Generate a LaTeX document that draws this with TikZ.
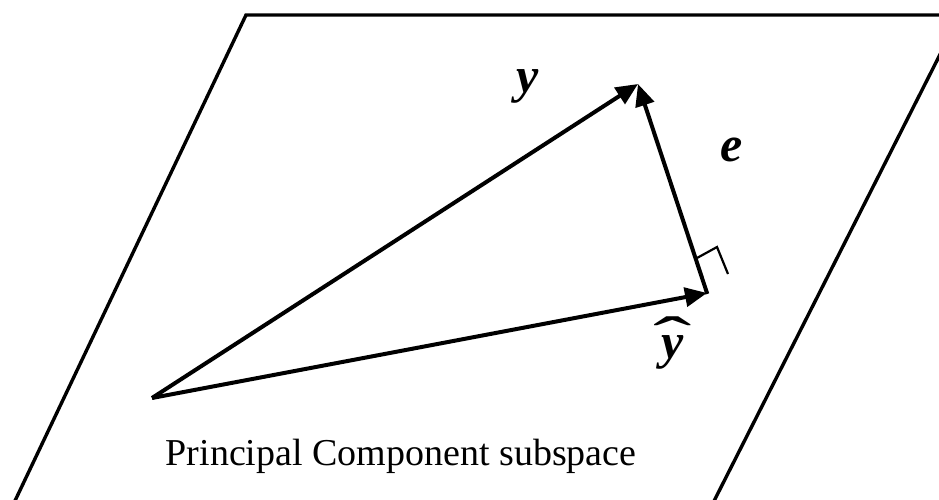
\documentclass[tikz,border=0pt]{standalone}
\usepackage{fontspec}
\setmainfont{Liberation Serif}
\usetikzlibrary{arrows.meta}
\begin{document}
\begin{tikzpicture}[x=1pt,y=-1pt,
  planeedge/.style={line width=3.4pt,line join=miter},
  vec/.style={line width=4pt,-{Triangle[length=22pt,width=19pt]}},
  rightmark/.style={line width=2.2pt},
  lbl/.style={font=\fontsize{50}{50}\selectfont\bfseries\itshape,inner sep=0pt,anchor=base},
  captext/.style={font=\fontsize{38}{38}\selectfont,inner sep=0pt,anchor=base}]
\useasboundingbox (0,0) rectangle (939,500);
\clip (0,0) rectangle (939,500);
\coordinate (p1) at (13,505);
\coordinate (p2) at (246,15);
\coordinate (p3) at (960,15);
\coordinate (p4) at (712,505);
\draw[planeedge] (p1) -- (p2) -- (p3) -- (p4);
\coordinate (o) at (152,398);
\coordinate (t) at (638,84);
\coordinate (h) at (707,293);
\draw[vec] (o) -- (t);
\draw[vec] (o) -- (h);
\draw[vec,shorten <=-1pt] (h) -- (t);
\coordinate (m1) at (697,258);
\coordinate (m2) at (717,247);
\coordinate (m3) at (728,274);
\draw[rightmark] (m1) -- (m2) -- (m3);
\node[lbl] (ly) at (528,93) {y};
\node[lbl] (le) at (732,161) {e};
\node[lbl] (lh) at (673,358) {\ooalign{y\cr\hidewidth\raisebox{0.0em}{\scalebox{2.3}[1.2]{\upshape\mdseries ˆ}}\hidewidth\cr}};
\node[captext] (c) at (401,465) {Principal Component subspace};
\end{tikzpicture}
\end{document}
